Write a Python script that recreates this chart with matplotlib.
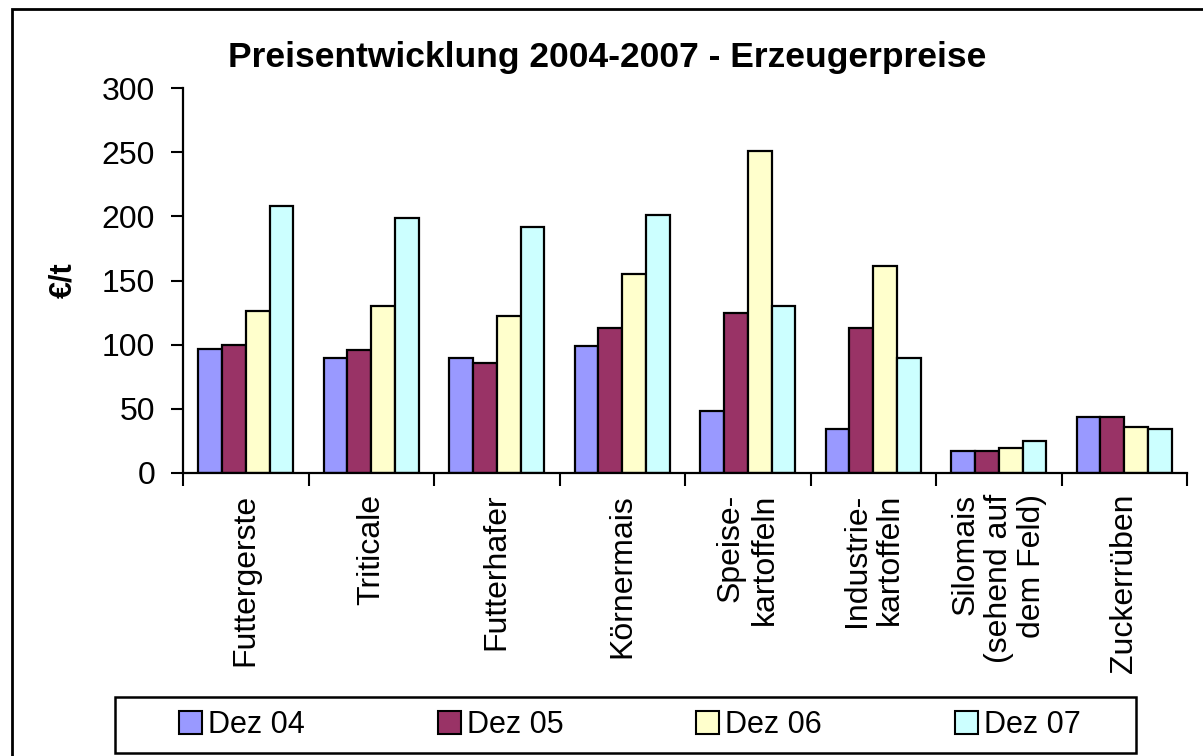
import numpy as np
import matplotlib
matplotlib.use("Agg")
import matplotlib.pyplot as plt
from matplotlib.patches import Patch, Rectangle

plt.rcParams['font.family'] = ['Liberation Sans', 'DejaVu Sans']

kategorien = ["Futtergerste", "Triticale", "Futterhafer", "Körnermais",
              "Speise-\nkartoffeln", "Industrie-\nkartoffeln",
              "Silomais\n(sehend auf\ndem Feld)", "Zuckerrüben"]
serien = ["Dez 04", "Dez 05", "Dez 06", "Dez 07"]
dez04 = [97, 90, 90, 99, 48, 34, 17, 44]
dez05 = [100, 96, 86, 113, 125, 113, 17, 44]
dez06 = [126, 130, 122, 155, 251, 161, 19.5, 36]
dez07 = [208, 199, 192, 201, 130, 90, 25, 34]
farben = ["#9999FF", "#993366", "#FFFFCC", "#CCFFFF"]

fig = plt.figure(figsize=(12.03, 7.56), dpi=100)
ax = fig.add_axes([183/1203, 1-473/756, 1004/1203, 385/756])

x = np.arange(len(kategorien))
bw = 0.19
for i, (werte, farbe) in enumerate(zip([dez04, dez05, dez06, dez07], farben)):
    ax.bar(x + (i - 1.5) * bw, werte, bw, color=farbe, edgecolor="black",
           linewidth=1.6, label=serien[i])

ax.set_xlim(-0.5, len(kategorien) - 0.5)
ax.set_ylim(0, 300)
ax.set_yticks(range(0, 301, 50))
ax.tick_params(axis='y', labelsize=23, length=9, width=1.5, pad=11, direction='out')

ax.set_xticks(x)
ax.set_xticklabels(kategorien, rotation=90, fontsize=23, va='top', ha='center',
                   multialignment='right', linespacing=1.15)
ax.tick_params(axis='x', length=0, pad=15)
ax.set_xticks(np.arange(-0.5, len(kategorien)), minor=True)
ax.tick_params(axis='x', which='minor', length=9, width=1.5, direction='out')

for s in ['top', 'right']:
    ax.spines[s].set_visible(False)
for s in ['left', 'bottom']:
    ax.spines[s].set_linewidth(1.6)

ax.set_ylabel("€/t", fontsize=22, fontweight='bold', labelpad=17)

fig.text(607/1203, 1-57/756, "Preisentwicklung 2004-2007 - Erzeugerpreise",
         fontsize=25.5, fontweight='bold', ha='center', va='center')

# legend box drawn separately, entries spread inside it
fig.patches.append(Rectangle((115/1203, 1-753/756), 1021/1203, 56/756,
                             transform=fig.transFigure, facecolor='white',
                             edgecolor='black', linewidth=1.8))
handles = [Patch(facecolor=f, edgecolor='black', linewidth=1.5) for f in farben]
fig.legend(handles, serien, loc='center', ncol=4,
           bbox_to_anchor=(630/1203, 1-725/756),
           fontsize=22, frameon=False, handlelength=0.75,
           handleheight=0.75, handletextpad=0.2, columnspacing=4.35,
           borderaxespad=0.0)

# outer chart border
fig.patches.append(Rectangle((12/1203, -0.05), 1.1, 1 - 9/756 + 0.05,
                             transform=fig.transFigure, fill=False,
                             edgecolor='black', linewidth=2))

fig.savefig("out.png", dpi=100)
